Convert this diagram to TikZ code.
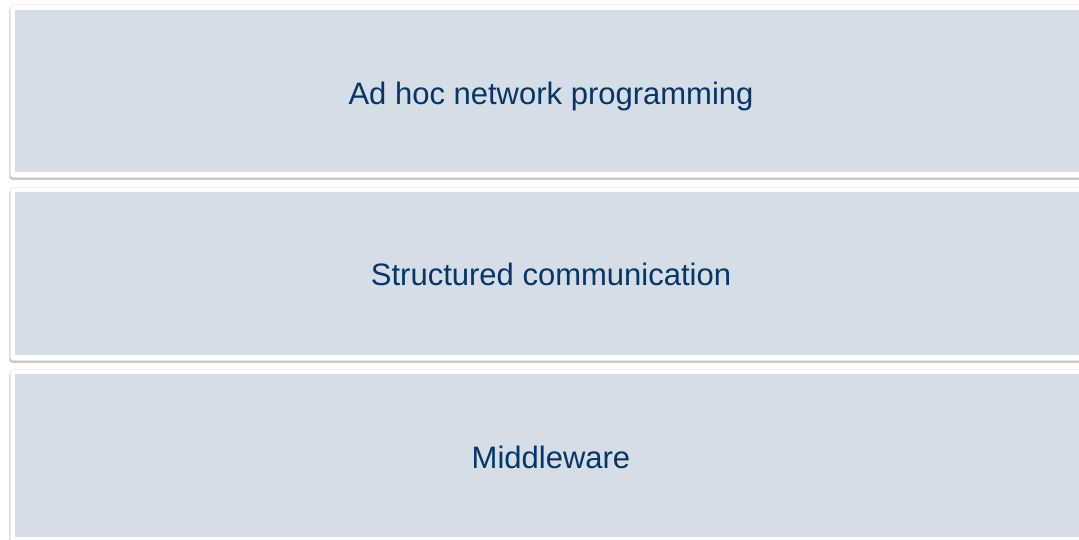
\documentclass[tikz,border=0pt]{standalone}
\usepackage{fontspec}
\setmainfont{Liberation Sans}
\usepackage{xcolor}
\usepackage{tikz}
\usetikzlibrary{positioning, shadows}
\definecolor{panelfill}{RGB}{213, 221, 230}
\definecolor{textblue}{RGB}{4, 54, 105}
\definecolor{shadowgray}{RGB}{150, 150, 150}

\tikzset{
    frame/.style={rectangle, fill=white, draw=black!8, line width=0.6pt, rounded corners=3pt,
        anchor=north west, minimum width=1090pt, minimum height=173pt, inner sep=0pt,
        drop shadow={shadow xshift=-1pt, shadow yshift=-2.5pt, opacity=0.5, fill=shadowgray}},
    panel/.style={rectangle, fill=panelfill, anchor=north west,
        minimum width=1085pt, minimum height=163pt, inner sep=0pt},
    caption/.style={anchor=base, text=textblue, inner sep=0pt,
        font=\fontsize{31}{36}\selectfont}
}

\begin{document}
\begin{tikzpicture}[x=1pt, y=-1pt]
    \path[use as bounding box, clip] (0,0) rectangle (1079,539);
    \fill[white] (0,0) rectangle (1079,539);

    % oberste Schicht
    \node[frame] (F1) at (10,4) {};
    \node[panel, minimum height=162pt] (P1) at (15,10) {};
    \node[caption] (T1) at (551,104) {Ad hoc network programming};

    % mittlere Schicht
    \node[frame] (F2) at (10,187) {};
    \node[panel] (P2) at (15,192) {};
    \node[caption] (T2) at (551,285) {Structured communication};

    % unterste Schicht
    \node[frame] (F3) at (10,369) {};
    \node[panel] (P3) at (15,374) {};
    \node[caption] (T3) at (551,468) {Middleware};
\end{tikzpicture}
\end{document}
